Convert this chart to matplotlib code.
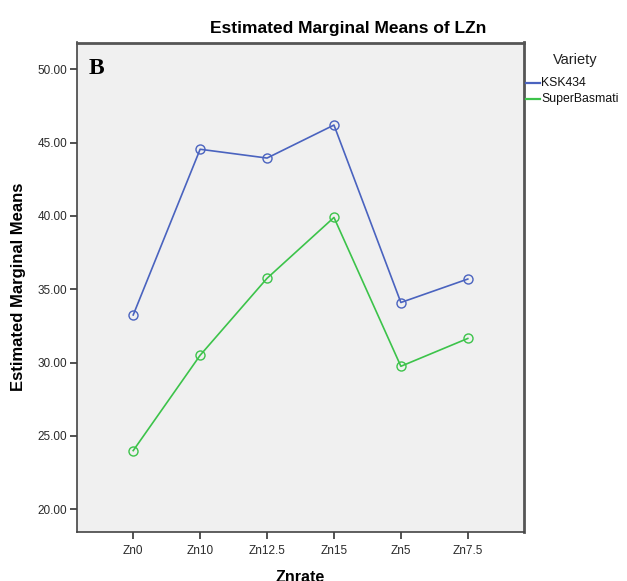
import matplotlib
matplotlib.use("Agg")
import matplotlib.pyplot as plt
from matplotlib.lines import Line2D

categories = ["Zn0", "Zn10", "Zn12.5", "Zn15", "Zn5", "Zn7.5"]
ksk434 = [33.25, 44.55, 43.95, 46.2, 34.1, 35.7]
superbasmati = [24.0, 30.5, 35.75, 39.9, 29.75, 31.65]
yticks = [20, 25, 30, 35, 40, 45, 50]
series_names = ["KSK434", "SuperBasmati"]

plt.rcParams['font.family'] = ['Liberation Sans', 'DejaVu Sans']

W, H = 627, 581
fig = plt.figure(figsize=(W / 100, H / 100), dpi=100)
fig.patch.set_facecolor("white")
ax = fig.add_axes([77 / W, 1 - 532 / H, (524 - 77) / W, (532 - 42.5) / H])
ax.set_facecolor("#f0f0f0")

x = list(range(len(categories)))
blue = "#4a63bf"
green = "#3cc34a"
ax.plot(x, ksk434, color=blue, lw=1.2, marker="o", ms=6.5, mfc="none", mec=blue, mew=1.0)
ax.plot(x, superbasmati, color=green, lw=1.2, marker="o", ms=6.5, mfc="none", mec=green, mew=1.0)

ax.set_xlim(-0.84, 5.84)
ax.set_ylim(18.45, 51.83)
ax.set_xticks(x)
ax.set_xticklabels(categories, fontsize=8.5, color="#2a2a2a")
ax.set_yticks(yticks)
ax.set_yticklabels([f"{v:.2f}" for v in yticks], fontsize=8.5, color="#2a2a2a")
ax.tick_params(axis="both", length=5, width=1.2, color="#333333", pad=2)
ax.tick_params(axis="x", pad=4)

for side in ["left", "bottom"]:
    ax.spines[side].set_color("#444444")
    ax.spines[side].set_linewidth(1.2)
for side in ["right", "top"]:
    ax.spines[side].set_color("#555555")
    ax.spines[side].set_linewidth(2.0)

fig.text(348 / W, 1 - 28 / H, "Estimated Marginal Means of LZn", ha="center", va="center",
         fontsize=12.5, fontweight="bold")
ax.set_ylabel("Estimated Marginal Means", fontsize=12, fontweight="bold", labelpad=8)
ax.set_xlabel("Znrate", fontsize=11.5, fontweight="bold", labelpad=10)

ax.text(0.025, 0.968, "B", transform=ax.transAxes, ha="left", va="top",
        fontsize=17, fontweight="bold", family=["Liberation Serif", "DejaVu Serif"])

# legend (drawn manually, SPSS style)
fig.text(553 / W, 1 - 60 / H, "Variety", ha="left", va="center", fontsize=10.5, color="#222222")
for i, (name, col) in enumerate(zip(series_names, [blue, green])):
    yy = 1 - (83 + 16 * i) / H
    fig.add_artist(Line2D([526 / W, 540 / W], [yy, yy], color=col, lw=1.6,
                          transform=fig.transFigure))
    fig.text(541 / W, yy, name, ha="left", va="center", fontsize=8.8, color="#111111")

fig.savefig("out.png", dpi=100)
